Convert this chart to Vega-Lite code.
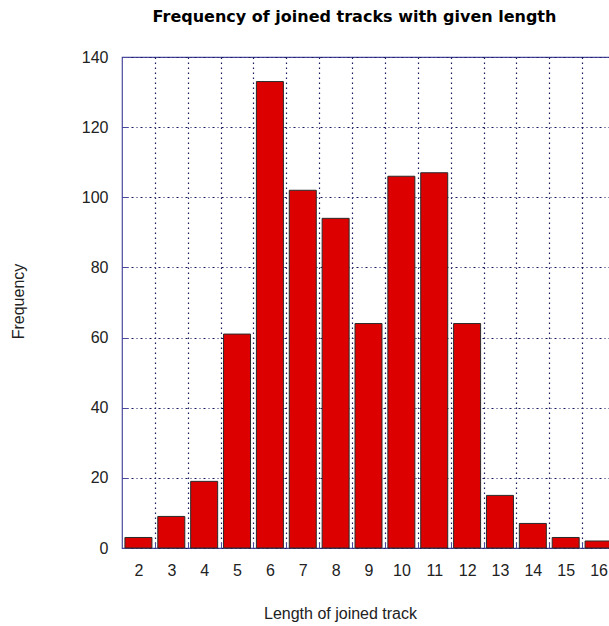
{
  "$schema": "https://vega.github.io/schema/vega-lite/v6.json",
  "width": 493,
  "height": 491,
  "autosize": "none",
  "padding": {"left": 122, "top": 57, "right": 0, "bottom": 78},
  "background": "white",
  "config": {
    "font": "Liberation Sans",
    "view": {"stroke": "#4a4a9e", "strokeWidth": 1.2}
  },
  "title": {
    "text": "Frequency of joined tracks with given length",
    "font": "DejaVu Sans",
    "fontSize": 16,
    "fontWeight": "bold",
    "color": "#000000",
    "anchor": "middle",
    "offset": 24,
    "dx": -14
  },
  "data": {
    "values": [
      {"length": 2, "frequency": 3},
      {"length": 3, "frequency": 9},
      {"length": 4, "frequency": 19},
      {"length": 5, "frequency": 61},
      {"length": 6, "frequency": 133},
      {"length": 7, "frequency": 102},
      {"length": 8, "frequency": 94},
      {"length": 9, "frequency": 64},
      {"length": 10, "frequency": 106},
      {"length": 11, "frequency": 107},
      {"length": 12, "frequency": 64},
      {"length": 13, "frequency": 15},
      {"length": 14, "frequency": 7},
      {"length": 15, "frequency": 3},
      {"length": 16, "frequency": 2}
    ]
  },
  "layer": [
    {
      "mark": {"type": "bar", "size": 27, "fill": "#dd0000", "stroke": "#2a2a2a", "strokeWidth": 1},
      "encoding": {
        "x": {
          "field": "length",
          "type": "quantitative",
          "scale": {"domain": [1.5, 16.5], "nice": false, "zero": false, "padding": 0},
          "axis": {
            "orient": "bottom",
            "values": [2.5, 3.5, 4.5, 5.5, 6.5, 7.5, 8.5, 9.5, 10.5, 11.5, 12.5, 13.5, 14.5, 15.5, 16.5],
            "labelExpr": "format(datum.value - 0.5, 'd')",
            "labelOffset": -16.4,
            "labelFontSize": 16,
            "labelColor": "#222222",
            "labelPadding": 20,
            "labelFlush": false,
            "labelOverlap": false,
            "labelBaseline": "top",
            "domain": false,
            "ticks": true,
            "tickSize": -6,
            "tickColor": "#4a4a9e",
            "grid": true,
            "gridColor": "#1a1a60",
            "gridDash": [1.5, 3.5],
            "gridWidth": 1.2,
            "title": "Length of joined track",
            "titleFont": "Liberation Sans",
            "titleFontSize": 16,
            "titleFontWeight": "normal",
            "titleColor": "#222222",
            "titleX": 218,
            "titleY": 65,
            "titleAlign": "center",
            "titleBaseline": "middle"
          }
        },
        "y": {
          "field": "frequency",
          "type": "quantitative",
          "scale": {"domain": [0, 140], "nice": false},
          "axis": {
            "values": [0, 20, 40, 60, 80, 100, 120, 140],
            "labelFontSize": 16,
            "labelColor": "#222222",
            "labelPadding": 20,
            "labelFlush": false,
            "domain": false,
            "ticks": true,
            "tickSize": -6,
            "tickColor": "#4a4a9e",
            "grid": true,
            "gridColor": "#1a1a60",
            "gridDash": [2, 3, 1, 3],
            "gridWidth": 1.2,
            "title": "Frequency",
            "titleFont": "Liberation Sans",
            "titleFontSize": 16,
            "titleFontWeight": "normal",
            "titleColor": "#222222",
            "titleX": -104,
            "titleY": 244,
            "titleAngle": -90,
            "titleAlign": "center",
            "titleBaseline": "middle"
          }
        }
      }
    }
  ]
}
